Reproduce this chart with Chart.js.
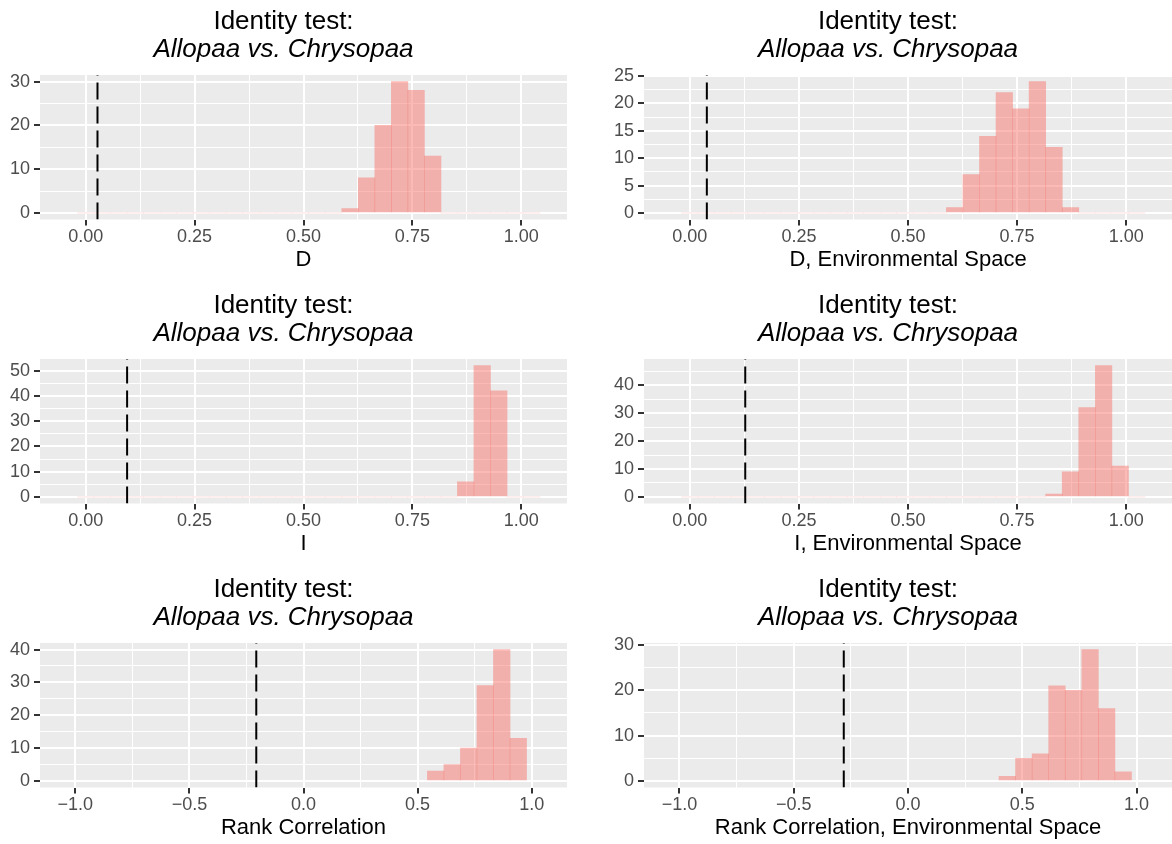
<!DOCTYPE html>
<html>
<head>
<meta charset="utf-8">
<script src="https://cdn.jsdelivr.net/npm/chart.js@4/dist/chart.umd.min.js"></script>
<style>
  html, body { margin:0; padding:0; background:#ffffff; }
  body { width:1172px; height:844px; position:relative; overflow:hidden; }
  canvas { position:absolute; }
</style>
</head>
<body>
<canvas id="c0"></canvas>
<canvas id="c1"></canvas>
<canvas id="c2"></canvas>
<canvas id="c3"></canvas>
<canvas id="c4"></canvas>
<canvas id="c5"></canvas>
<script>
// ---------- DATA ----------
const TITLE_LINE1 = 'Identity test:';
const TITLE_LINE2 = 'Allopaa vs. Chrysopaa';

const AXIS_TITLES = ['D', 'D, Environmental Space', 'I', 'I, Environmental Space',
                     'Rank Correlation', 'Rank Correlation, Environmental Space'];

// histogram bin centres (D / I panels)
const UNIT_BIN_CENTERS = [0.0000, 0.0379, 0.0759, 0.1138, 0.1517, 0.1897, 0.2276, 0.2655,
                          0.3034, 0.3414, 0.3793, 0.4172, 0.4552, 0.4931, 0.5310, 0.5690,
                          0.6069, 0.6448, 0.6828, 0.7207, 0.7586, 0.7966, 0.8345, 0.8724,
                          0.9103, 0.9483, 0.9862, 1.0241];
// histogram bin centres (rank correlation panels)
const RANK_BIN_CENTERS = [0.4345, 0.5069, 0.5793, 0.6517, 0.7241, 0.7966, 0.8690, 0.9414];

const COUNTS_D      = [0,0,0,0,0,0,0,0,0,0,0,0,0,0,0,0, 1,8,20,30,28,13, 0,0,0,0,0,0];
const COUNTS_D_ENV  = [0,0,0,0,0,0,0,0,0,0,0,0,0,0,0,0, 1,7,14,22,19,24,12,1, 0,0,0,0];
const COUNTS_I      = [0,0,0,0,0,0,0,0,0,0,0,0,0,0,0,0,0,0,0,0,0,0,0, 6,52,42, 0,0];
const COUNTS_I_ENV  = [0,0,0,0,0,0,0,0,0,0,0,0,0,0,0,0,0,0,0,0,0,0, 1,9,32,47,11, 0];
const COUNTS_RANK     = [0,0,3,5,10,29,40,13];
const COUNTS_RANK_ENV = [1,5,6,21,20,29,16,2];

// observed (empirical) values – dashed lines
const OBSERVED = [0.027, 0.039, 0.095, 0.127, -0.207, -0.281];

// tick values and labels
const X_UNIT_MAJOR  = [0, 0.25, 0.5, 0.75, 1];
const X_UNIT_LABELS = ['0.00', '0.25', '0.50', '0.75', '1.00'];
const X_UNIT_MINOR  = [0.125, 0.375, 0.625, 0.875];
const X_UNIT_RANGE  = [-0.105, 1.105];

const X_RANK_MAJOR  = [-1, -0.5, 0, 0.5, 1];
const X_RANK_LABELS = ['\u22121.0', '\u22120.5', '0.0', '0.5', '1.0'];
const X_RANK_MINOR  = [-0.75, -0.25, 0.25, 0.75];
const X_RANK_RANGE  = [-1.155, 1.155];

const Y_MAJOR_P1 = [0, 10, 20, 30];           const Y_MINOR_P1 = [5, 15, 25];
const Y_MAJOR_P2 = [0, 5, 10, 15, 20, 25];    const Y_MINOR_P2 = [2.5, 7.5, 12.5, 17.5, 22.5];
const Y_MAJOR_P3 = [0, 10, 20, 30, 40, 50];   const Y_MINOR_P3 = [5, 15, 25, 35, 45];
const Y_MAJOR_P4 = [0, 10, 20, 30, 40];       const Y_MINOR_P4 = [5, 15, 25, 35, 45];
const Y_MAJOR_P5 = [0, 10, 20, 30, 40];       const Y_MINOR_P5 = [5, 15, 25, 35];
const Y_MAJOR_P6 = [0, 10, 20, 30];           const Y_MINOR_P6 = [5, 15, 25];

// ---------- STYLE ----------
const FONT = '"Liberation Sans", Arial, Helvetica, sans-serif';
const BAR_FILL = 'rgba(248,118,109,0.5)';
const BASE_FILL = 'rgba(248,118,109,0.12)';
const CANVAS_W = 568, CANVAS_H = 276;
const COL_X = [0, 604];
const ROW_Y = [0, 284, 568];

const panels = [
  { centers: UNIT_BIN_CENTERS, counts: COUNTS_D,     xMajor: X_UNIT_MAJOR, xLabels: X_UNIT_LABELS, xMinor: X_UNIT_MINOR, xRange: X_UNIT_RANGE, yMajor: Y_MAJOR_P1, yMinor: Y_MINOR_P1, base: true },
  { centers: UNIT_BIN_CENTERS, counts: COUNTS_D_ENV, xMajor: X_UNIT_MAJOR, xLabels: X_UNIT_LABELS, xMinor: X_UNIT_MINOR, xRange: X_UNIT_RANGE, yMajor: Y_MAJOR_P2, yMinor: Y_MINOR_P2, base: true },
  { centers: UNIT_BIN_CENTERS, counts: COUNTS_I,     xMajor: X_UNIT_MAJOR, xLabels: X_UNIT_LABELS, xMinor: X_UNIT_MINOR, xRange: X_UNIT_RANGE, yMajor: Y_MAJOR_P3, yMinor: Y_MINOR_P3, base: true },
  { centers: UNIT_BIN_CENTERS, counts: COUNTS_I_ENV, xMajor: X_UNIT_MAJOR, xLabels: X_UNIT_LABELS, xMinor: X_UNIT_MINOR, xRange: X_UNIT_RANGE, yMajor: Y_MAJOR_P4, yMinor: Y_MINOR_P4, base: true },
  { centers: RANK_BIN_CENTERS, counts: COUNTS_RANK,     xMajor: X_RANK_MAJOR, xLabels: X_RANK_LABELS, xMinor: X_RANK_MINOR, xRange: X_RANK_RANGE, yMajor: Y_MAJOR_P5, yMinor: Y_MINOR_P5, base: false },
  { centers: RANK_BIN_CENTERS, counts: COUNTS_RANK_ENV, xMajor: X_RANK_MAJOR, xLabels: X_RANK_LABELS, xMinor: X_RANK_MINOR, xRange: X_RANK_RANGE, yMajor: Y_MAJOR_P6, yMinor: Y_MINOR_P6, base: false }
];

const panelBg = {
  id: 'panelBg',
  beforeDraw(chart) {
    const a = chart.chartArea, ctx = chart.ctx;
    ctx.save();
    ctx.fillStyle = '#EBEBEB';
    ctx.fillRect(a.left, a.top, a.right - a.left, a.bottom - a.top);
    ctx.restore();
  }
};

function isIn(list, v) { return list.some(t => Math.abs(t - v) < 1e-9); }

panels.forEach((p, i) => {
  const cv = document.getElementById('c' + i);
  cv.width = CANVAS_W; cv.height = CANVAS_H;
  cv.style.left = COL_X[i % 2] + 'px';
  cv.style.top = ROW_Y[Math.floor(i / 2)] + 'px';

  const maxC = Math.max(...p.counts);
  const yMin = -0.05 * maxC, yMax = 1.05 * maxC;
  const xTicks = [...p.xMajor, ...p.xMinor].sort((a, b) => a - b);
  const yTicks = [...p.yMajor, ...p.yMinor].sort((a, b) => a - b);

  new Chart(cv, {
    type: 'bar',
    data: {
      datasets: [
        {
          type: 'bar',
          data: p.centers.map((c, k) => ({ x: c, y: p.counts[k] })),
          backgroundColor: ctx => (ctx.raw && ctx.raw.y === 0) ? (p.base ? BASE_FILL : 'rgba(0,0,0,0)') : BAR_FILL,
          borderWidth: 0,
          barPercentage: 1,
          categoryPercentage: 1,
          minBarLength: 1,
          grouped: false,
          order: 2
        },
        {
          type: 'line',
          data: [{ x: OBSERVED[i], y: yMin }, { x: OBSERVED[i], y: yMax }],
          borderColor: '#000000',
          borderWidth: 2,
          borderDash: [17, 7],
          pointRadius: 0,
          fill: false,
          order: 1
        }
      ]
    },
    options: {
      responsive: false,
      animation: false,
      devicePixelRatio: 1,
      layout: { padding: { left: 0, right: i % 2 === 0 ? 1 : 0, top: 0, bottom: 0 } },
      plugins: {
        legend: { display: false },
        tooltip: { enabled: false },
        title: {
          display: true, text: TITLE_LINE1, color: '#000000',
          font: { family: FONT, size: 26, weight: 'normal', lineHeight: 1 },
          padding: { top: 8.7, bottom: 0 }
        },
        subtitle: {
          display: true, text: TITLE_LINE2, color: '#000000',
          font: { family: FONT, size: 26, style: 'italic', weight: 'normal', lineHeight: 1 },
          padding: { top: 1.6, bottom: 12.7 }
        }
      },
      scales: {
        x: {
          type: 'linear', min: p.xRange[0], max: p.xRange[1], offset: false,
          border: { display: false },
          grid: {
            offset: false, color: '#FFFFFF',
            lineWidth: c => isIn(p.xMajor, c.tick.value) ? 2 : 1,
            drawTicks: true, tickLength: 6,
            tickColor: c => isIn(p.xMajor, c.tick.value) ? '#333333' : 'rgba(0,0,0,0)',
            tickWidth: 2
          },
          afterBuildTicks: s => { s.ticks = xTicks.map(v => ({ value: v })); },
          afterFit: s => { s.height = 56.5; },
          ticks: {
            autoSkip: false, maxRotation: 0, minRotation: 0, padding: 1,
            color: '#4D4D4D', font: { family: FONT, size: 18, lineHeight: 1.2 },
            callback: v => { const k = p.xMajor.findIndex(t => Math.abs(t - v) < 1e-9); return k >= 0 ? p.xLabels[k] : ''; }
          },
          title: {
            display: true, text: AXIS_TITLES[i], color: '#000000',
            font: { family: FONT, size: 22, lineHeight: 1 },
            padding: { top: 0, bottom: 5 }
          }
        },
        y: {
          type: 'linear', min: yMin, max: yMax,
          border: { display: false },
          grid: {
            color: '#FFFFFF',
            lineWidth: c => isIn(p.yMajor, c.tick.value) ? 2 : 1,
            drawTicks: true, tickLength: 6,
            tickColor: c => isIn(p.yMajor, c.tick.value) ? '#333333' : 'rgba(0,0,0,0)',
            tickWidth: 2
          },
          afterBuildTicks: s => { s.ticks = yTicks.map(v => ({ value: v })); },
          afterFit: s => { s.width = 40; },
          ticks: {
            autoSkip: false, padding: 4,
            color: '#4D4D4D', font: { family: FONT, size: 18, lineHeight: 1.2 },
            callback: v => isIn(p.yMajor, v) ? String(v) : ''
          }
        }
      }
    },
    plugins: [panelBg]
  });
});
</script>
</body>
</html>
